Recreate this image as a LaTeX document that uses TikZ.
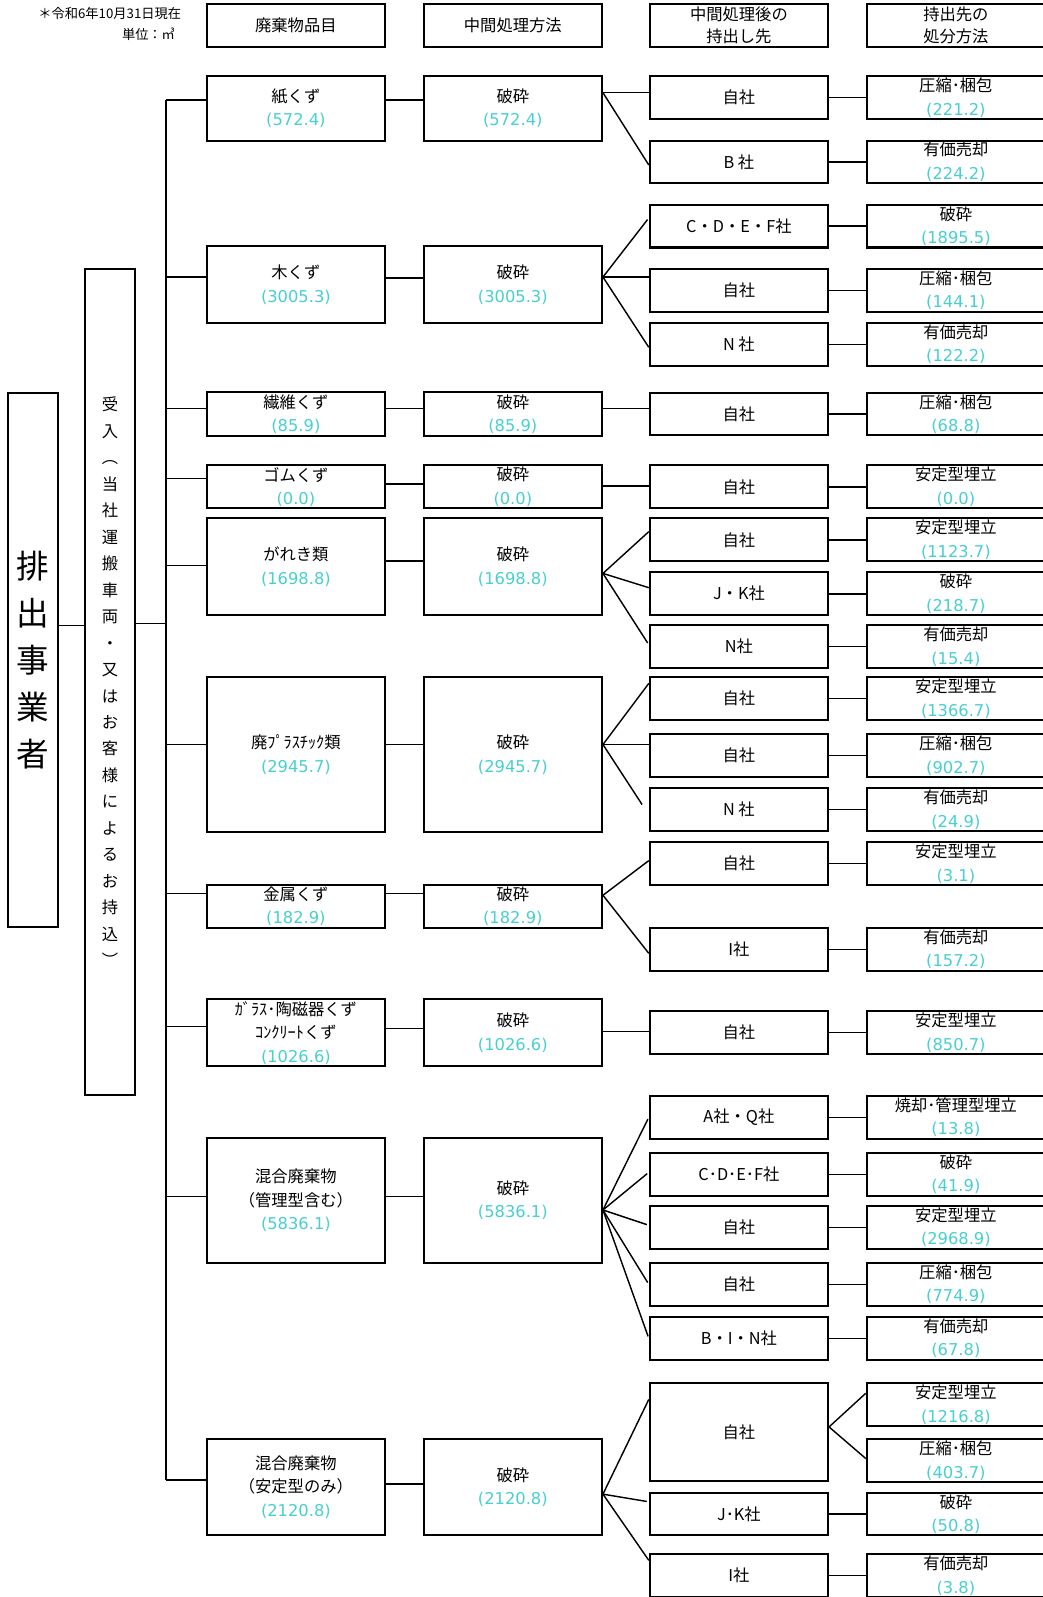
\documentclass[tikz,border=0pt]{standalone}
\usepackage{fontspec}
\setmainfont{Noto Sans CJK JP}
\newfontfamily\numfont{DejaVu Sans}
\usetikzlibrary{positioning}
\definecolor{amount-cyan}{HTML}{48CFD0}
\newcommand{\amt}[1]{{\numfont\color{amount-cyan}(#1)}}

\begin{document}
\begin{tikzpicture}[x=1pt, y=-1pt,
    box/.style={draw, line width=2pt, minimum width=175pt, minimum height=42pt, inner sep=0pt, align=center, font=\fontsize{16}{23}\selectfont},
    link/.style={line width=1.4pt},
    note/.style={font=\fontsize{13}{21}\selectfont, anchor=east, inner sep=0pt}
]
    \useasboundingbox (0,0) rectangle (1024,1568);

    % header
    \node[note] (date) at (178,13) {＊令和6年10月31日現在};
    \node[note] (unit) at (172,34) {単位：㎥};
    \node[box] (h1) at (290.5,25) {廃棄物品目};
    \node[box] (h2) at (503.5,25) {中間処理方法};
    \node[box, font=\fontsize{16}{21}\selectfont] (h3) at (725.5,25) {中間処理後の\\持出し先};
    \node[box, font=\fontsize{16}{21}\selectfont] (h4) at (938.5,25) {持出先の\\処分方法};

    % source and intake
    \node[box, minimum width=49pt, minimum height=524pt, font=\fontsize{32}{46}\selectfont] (src) at (32.5,648) {排\\出\\事\\業\\者};
    \node[box, minimum width=50pt, minimum height=811pt, font=\fontsize{16}{26}\selectfont] (recv) at (108,669.5) {受\\入\\︵\\当\\社\\運\\搬\\車\\両\\・\\又\\は\\お\\客\\様\\に\\よ\\る\\お\\持\\込\\︶};

    % waste items
    \node[box, minimum height=63pt] (w1) at (290.5,106.5) {紙くず\\\amt{572.4}};
    \node[box, minimum height=75pt] (w2) at (290.5,279.5) {木くず\\\amt{3005.3}};
    \node[box, minimum height=43pt] (w3) at (290.5,406.5) {繊維くず\\\amt{85.9}};
    \node[box] (w4) at (290.5,478) {ゴムくず\\\amt{0.0}};
    \node[box, minimum height=95pt] (w5) at (290.5,556.5) {がれき類\\\amt{1698.8}};
    \node[box, minimum height=152pt] (w6) at (290.5,741) {廃ﾌﾟﾗｽﾁｯｸ類\\\amt{2945.7}};
    \node[box] (w7) at (290.5,890) {金属くず\\\amt{182.9}};
    \node[box, minimum height=66pt] (w8) at (290.5,1014) {ｶﾞﾗｽ･陶磁器くず\\ｺﾝｸﾘｰﾄくず\\\amt{1026.6}};
    \node[box, minimum height=123pt] (w9) at (290.5,1178.5) {混合廃棄物\\（管理型含む）\\\amt{5836.1}};
    \node[box, minimum height=94pt] (w10) at (290.5,1460) {混合廃棄物\\（安定型のみ）\\\amt{2120.8}};

    % intermediate treatment
    \node[box, minimum height=63pt] (m1) at (503.5,106.5) {破砕\\\amt{572.4}};
    \node[box, minimum height=75pt] (m2) at (503.5,279.5) {破砕\\\amt{3005.3}};
    \node[box, minimum height=43pt] (m3) at (503.5,406.5) {破砕\\\amt{85.9}};
    \node[box] (m4) at (503.5,478) {破砕\\\amt{0.0}};
    \node[box, minimum height=95pt] (m5) at (503.5,556.5) {破砕\\\amt{1698.8}};
    \node[box, minimum height=152pt] (m6) at (503.5,741) {破砕\\\amt{2945.7}};
    \node[box] (m7) at (503.5,890) {破砕\\\amt{182.9}};
    \node[box, minimum height=66pt] (m8) at (503.5,1014) {破砕\\\amt{1026.6}};
    \node[box, minimum height=123pt] (m9) at (503.5,1178.5) {破砕\\\amt{5836.1}};
    \node[box, minimum height=94pt] (m10) at (503.5,1460) {破砕\\\amt{2120.8}};

    % carried out to
    \node[box] (a1) at (725.5,96) {自社};
    \node[box] (a2) at (725.5,159) {B 社};
    \node[box] (a3) at (725.5,222) {C・D・E・F社};
    \node[box] (a4) at (725.5,285) {自社};
    \node[box] (a5) at (725.5,338) {N 社};
    \node[box] (a6) at (725.5,406.5) {自社};
    \node[box] (a7) at (725.5,478) {自社};
    \node[box] (a8) at (725.5,530) {自社};
    \node[box] (a9) at (725.5,583) {J・K社};
    \node[box] (a10) at (725.5,635) {N社};
    \node[box] (a11) at (725.5,686) {自社};
    \node[box] (a12) at (725.5,742) {自社};
    \node[box] (a13) at (725.5,795) {N 社};
    \node[box] (a14) at (725.5,848) {自社};
    \node[box] (a15) at (725.5,932) {I社};
    \node[box] (a16) at (725.5,1014) {自社};
    \node[box] (a17) at (725.5,1097) {A社・Q社};
    \node[box] (a18) at (725.5,1153) {C･D･E･F社};
    \node[box] (a19) at (725.5,1205) {自社};
    \node[box] (a20) at (725.5,1261) {自社};
    \node[box] (a21) at (725.5,1314) {B・I・N社};
    \node[box, minimum height=96pt] (a22) at (725.5,1406) {自社};
    \node[box] (a23) at (725.5,1486.5) {J･K社};
    \node[box] (a24) at (725.5,1547) {I社};

    % disposal
    \node[box] (b1) at (938.5,96) {圧縮･梱包\\\amt{221.2}};
    \node[box] (b2) at (938.5,159) {有価売却\\\amt{224.2}};
    \node[box] (b3) at (938.5,222) {破砕\\\amt{1895.5}};
    \node[box] (b4) at (938.5,285) {圧縮･梱包\\\amt{144.1}};
    \node[box] (b5) at (938.5,338) {有価売却\\\amt{122.2}};
    \node[box] (b6) at (938.5,406.5) {圧縮･梱包\\\amt{68.8}};
    \node[box] (b7) at (938.5,478) {安定型埋立\\\amt{0.0}};
    \node[box] (b8) at (938.5,530) {安定型埋立\\\amt{1123.7}};
    \node[box] (b9) at (938.5,583) {破砕\\\amt{218.7}};
    \node[box] (b10) at (938.5,635) {有価売却\\\amt{15.4}};
    \node[box] (b11) at (938.5,686) {安定型埋立\\\amt{1366.7}};
    \node[box] (b12) at (938.5,742) {圧縮･梱包\\\amt{902.7}};
    \node[box] (b13) at (938.5,795) {有価売却\\\amt{24.9}};
    \node[box] (b14) at (938.5,848) {安定型埋立\\\amt{3.1}};
    \node[box] (b15) at (938.5,932) {有価売却\\\amt{157.2}};
    \node[box] (b16) at (938.5,1014) {安定型埋立\\\amt{850.7}};
    \node[box] (b17) at (938.5,1097) {焼却･管理型埋立\\\amt{13.8}};
    \node[box] (b18) at (938.5,1153) {破砕\\\amt{41.9}};
    \node[box] (b19) at (938.5,1205) {安定型埋立\\\amt{2968.9}};
    \node[box] (b20) at (938.5,1261) {圧縮･梱包\\\amt{774.9}};
    \node[box] (b21) at (938.5,1314) {有価売却\\\amt{67.8}};
    \node[box] (b22) at (938.5,1379) {安定型埋立\\\amt{1216.8}};
    \node[box] (b23) at (938.5,1434) {圧縮･梱包\\\amt{403.7}};
    \node[box] (b24) at (938.5,1486.5) {破砕\\\amt{50.8}};
    \node[box] (b25) at (938.5,1547) {有価売却\\\amt{3.8}};

    % trunk
    \coordinate (trunktop) at (163,98);
    \coordinate (trunkbot) at (163,1453);
    \draw[link] (src.east |- 0,614) -- (recv.west |- 0,614);
    \draw[link] (recv.east |- 0,612) -- (trunktop |- 0,612);
    \draw[link] (trunktop) -- (trunkbot);
    \draw[link] (trunktop) -- (w1.west |- trunktop);
    \draw[link] (trunktop |- 0,272) -- (w2.west |- 0,272);
    \draw[link] (trunktop |- 0,401) -- (w3.west |- 0,401);
    \draw[link] (trunktop |- 0,470) -- (w4.west |- 0,470);
    \draw[link] (trunktop |- 0,555) -- (w5.west |- 0,555);
    \draw[link] (trunktop |- 0,731) -- (w6.west |- 0,731);
    \draw[link] (trunktop |- 0,877) -- (w7.west |- 0,877);
    \draw[link] (trunktop |- 0,1008) -- (w8.west |- 0,1008);
    \draw[link] (trunktop |- 0,1175) -- (w9.west |- 0,1175);
    \draw[link] (trunkbot) -- (w10.west |- trunkbot);

    % item -> treatment
    \draw[link] (w1.east |- 0,98) -- (m1.west |- 0,98);
    \draw[link] (w2.east |- 0,273) -- (m2.west |- 0,273);
    \draw[link] (w3.east |- 0,401) -- (m3.west |- 0,401);
    \draw[link] (w4.east |- 0,475) -- (m4.west |- 0,475);
    \draw[link] (w5.east |- 0,551) -- (m5.west |- 0,551);
    \draw[link] (w6.east |- 0,731) -- (m6.west |- 0,731);
    \draw[link] (w7.east |- 0,877) -- (m7.west |- 0,877);
    \draw[link] (w8.east |- 0,1010) -- (m8.west |- 0,1010);
    \draw[link] (w9.east |- 0,1175) -- (m9.west |- 0,1175);
    \draw[link] (w10.east |- 0,1457) -- (m10.west |- 0,1457);

    % treatment -> carried out to
    \coordinate (f1) at (m1.east |- 0,91);
    \draw[link] (f1) -- (a1.west |- f1);
    \draw[link] (f1) -- ([yshift=-3pt]a2.west);
    \coordinate (f2) at (m2.east |- 0,272);
    \draw[link, shorten >=2pt] (f2) -- ([yshift=8pt]a3.west);
    \draw[link] (f2) -- (a4.west |- f2);
    \draw[link] (f2) -- ([yshift=-3pt]a5.west);
    \coordinate (f3) at (m3.east |- 0,401);
    \draw[link] (f3) -- (a6.west |- f3);
    \coordinate (f4) at (m4.east |- 0,477);
    \draw[link] (f4) -- (a7.west |- f4);
    \coordinate (f5) at (m5.east |- 0,563);
    \draw[link] (f5) -- ([yshift=8pt]a8.west);
    \draw[link] (f5) -- ([yshift=6pt]a9.west);
    \draw[link, shorten >=2pt] (f5) -- ([yshift=2pt]a10.west);
    \coordinate (f6) at (m6.east |- 0,731);
    \draw[link] (f6) -- ([yshift=15pt]a11.west);
    \draw[link] (f6) -- (a12.west |- f6);
    \draw[link, shorten >=12pt] (f6) -- ([yshift=-5pt]a13.west);
    \coordinate (f7) at (m7.east |- 0,879);
    \draw[link] (f7) -- ([yshift=3pt]a14.west);
    \draw[link] (f7) -- ([yshift=-4pt]a15.west);
    \coordinate (f8) at (m8.east |- 0,1013);
    \draw[link] (f8) -- (a16.west |- f8);
    \coordinate (f9) at (m9.east |- 0,1188);
    \draw[link, shorten >=2pt] (f9) -- (a17.west);
    \draw[link, shorten >=2pt] (f9) -- ([yshift=2pt]a18.west);
    \draw[link, shorten >=2pt] (f9) -- ([yshift=2pt]a19.west);
    \draw[link, shorten >=2pt] (f9) -- (a20.west);
    \draw[link, shorten >=2pt] (f9) -- (a21.west);
    \coordinate (f10) at (m10.east |- 0,1467);
    \draw[link] (f10) -- ([yshift=32pt]a22.west);
    \draw[link, shorten >=2pt] (f10) -- ([yshift=12pt]a23.west);
    \draw[link] (f10) -- ([yshift=15pt]a24.west);

    % carried out to -> disposal
    \draw[link] (a1) -- (b1);
    \draw[link] (a2) -- (b2);
    \draw[link] (a3) -- (b3);
    \draw[link] (a4) -- (b4);
    \draw[link] (a5) -- (b5);
    \draw[link] (a6) -- (b6);
    \draw[link] (a7) -- (b7);
    \draw[link] (a8) -- (b8);
    \draw[link] (a9) -- (b9);
    \draw[link] (a10) -- (b10);
    \draw[link] (a11) -- (b11);
    \draw[link] (a12) -- (b12);
    \draw[link] (a13) -- (b13);
    \draw[link] (a14) -- (b14);
    \draw[link] (a15) -- (b15);
    \draw[link] (a16) -- (b16);
    \draw[link] (a17) -- (b17);
    \draw[link] (a18) -- (b18);
    \draw[link] (a19) -- (b19);
    \draw[link] (a20) -- (b20);
    \draw[link] (a21) -- (b21);
    \coordinate (f11) at (a22.east |- 0,1401);
    \draw[link] (f11) -- ([yshift=11pt]b22.west);
    \draw[link] (f11) -- ([yshift=2pt]b23.west);
    \draw[link] (a23) -- (b24);
    \draw[link] (a24) -- (b25);
\end{tikzpicture}
\end{document}
